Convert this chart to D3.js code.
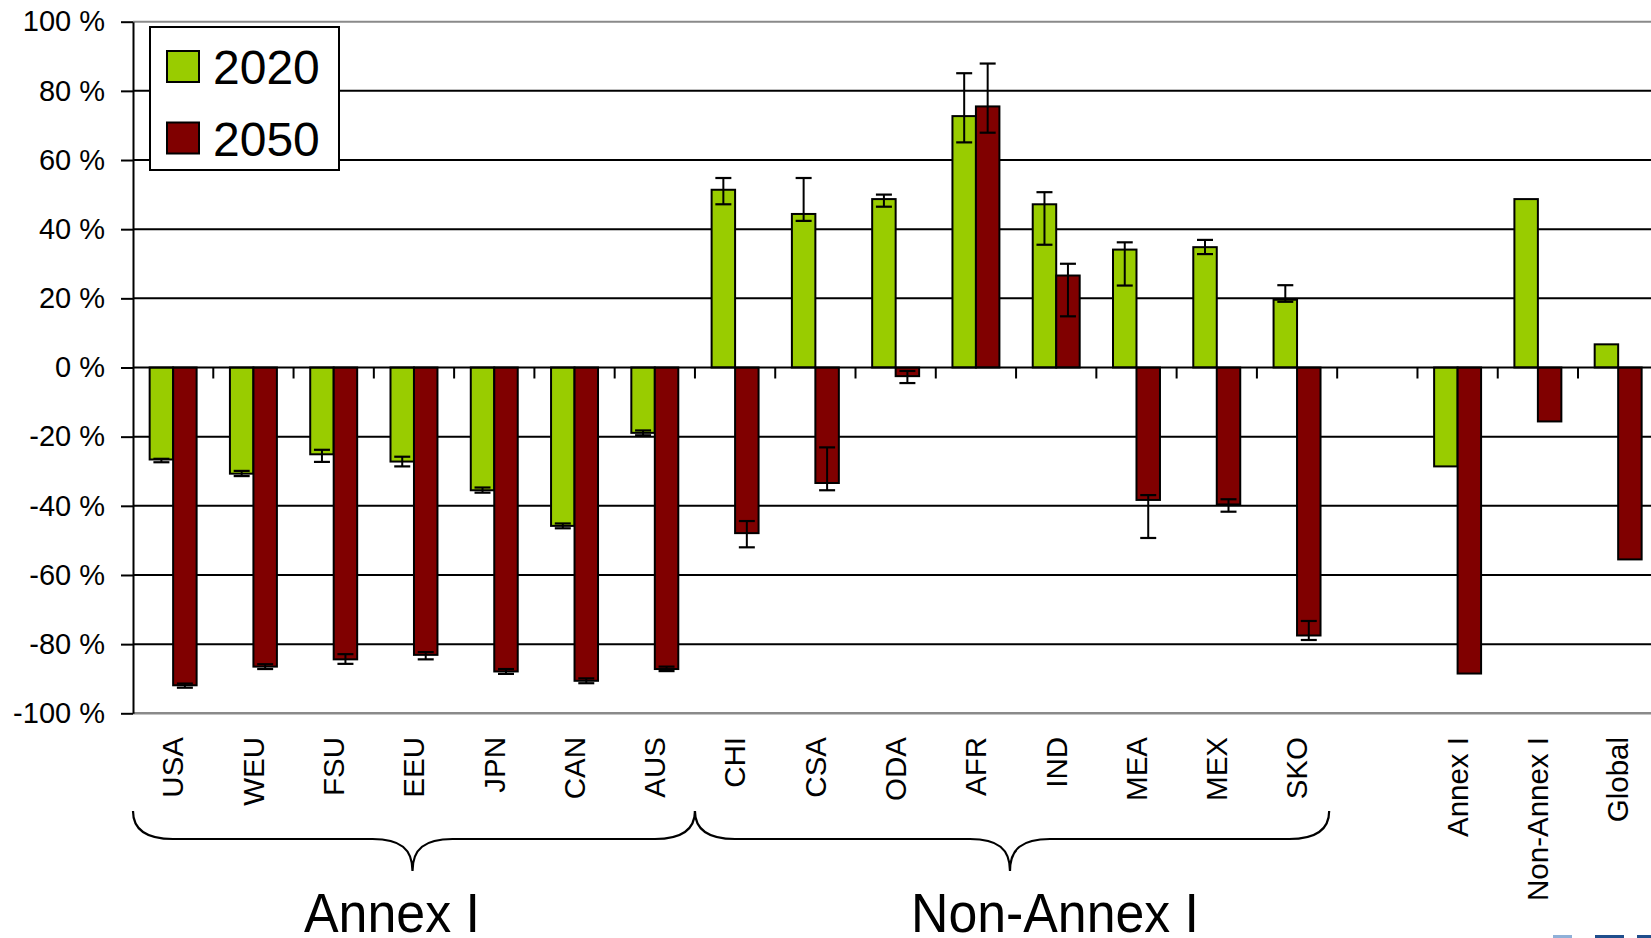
<!DOCTYPE html>
<html>
<head>
<meta charset="utf-8">
<script src="https://cdn.jsdelivr.net/npm/d3@7"></script>
<style>
  html, body { margin: 0; padding: 0; background: #fff; }
  svg { display: block; font-family: "Liberation Sans", Arial, sans-serif; }
</style>
</head>
<body>
<svg id="chart" width="1651" height="938"></svg>
<script>
// Regions and aggregates along the category axis ("" is an empty spacer slot)
const categories = ["USA", "WEU", "FSU", "EEU", "JPN", "CAN", "AUS",
  "CHI", "CSA", "ODA", "AFR", "IND", "MEA", "MEX", "SKO", "",
  "Annex I", "Non-Annex I", "Global"];

const seriesNames = ["2020", "2050"];

// Change relative to baseline, in percent
const values2020 = [-26.6, -30.7, -25.1, -27.2, -35.5, -45.8, -18.9,
  51.4, 44.4, 48.7, 72.7, 47.2, 34.1, 34.8, 19.6, null, -28.6, 48.7, 6.7];
const values2050 = [-91.9, -86.5, -84.4, -83.1, -87.9, -90.6, -87.2,
  -47.9, -33.4, -2.5, 75.5, 26.6, -38.3, -39.6, -77.5, null, -88.5, -15.6, -55.5];

// Uncertainty ranges (low / high end of each error bar)
const low2020 = [-27.4, -31.4, -27.3, -28.6, -36.2, -46.5, -19.6,
  47.2, 42.4, 46.5, 65.1, 35.5, 23.7, 32.8, 19.0, null, null, null, null];
const high2020 = [-26.4, -29.9, -23.8, -25.8, -34.7, -45.1, -18.2,
  54.8, 54.8, 50.0, 85.1, 50.7, 36.2, 36.9, 23.8, null, null, null, null];
const low2050 = [-92.6, -87.2, -85.7, -84.4, -88.6, -91.3, -87.8,
  -52.0, -35.5, -4.5, 67.9, 14.8, -49.3, -41.7, -78.8, null, null, null, null];
const high2050 = [-91.4, -85.8, -82.9, -82.3, -87.2, -89.9, -86.5,
  -44.4, -23.1, -1.0, 87.9, 30.0, -36.9, -38.1, -73.3, null, null, null, null];

const yTicks = [100, 80, 60, 40, 20, 0, -20, -40, -60, -80, -100];

// Category groups shown with braces below the axis
const groupNames = ["Annex I", "Non-Annex I"];
const groupFirst = ["USA", "CHI"];
const groupLast = ["AUS", "SKO"];

const colors = { "2020": "#99CC00", "2050": "#800000" };

const svg = d3.select("#chart");
svg.append("rect").attr("width", 1651).attr("height", 938).attr("fill", "#fff");

const plotLeft = 133, plotRight = 1658.3, plotTop = 21.7, plotBottom = 713.3;

const x = d3.scaleBand()
  .domain(categories)
  .range([plotLeft, plotRight])
  .paddingInner(0.415)
  .paddingOuter(0.2075);

const xs = d3.scaleBand().domain(seriesNames).range([0, x.bandwidth()]);

const y = d3.scaleLinear().domain([-100, 100]).range([plotBottom, plotTop]);

const rows = categories.map((c, i) => ({
  cat: c,
  series: [
    { name: "2020", v: values2020[i], lo: low2020[i], hi: high2020[i] },
    { name: "2050", v: values2050[i], lo: low2050[i], hi: high2050[i] }
  ]
}));

// Horizontal gridlines
svg.append("g").selectAll("line")
  .data(yTicks.filter(t => t !== 0))
  .join("line")
  .attr("x1", plotLeft).attr("x2", plotRight)
  .attr("y1", d => y(d)).attr("y2", d => y(d))
  .attr("stroke", d => (Math.abs(d) === 100 ? "#8a8a8a" : "#000"))
  .attr("stroke-width", d => (d === -100 ? 2.6 : 2));

// Y axis
const yAxis = d3.axisLeft(y)
  .tickValues(yTicks)
  .tickSize(12)
  .tickSizeOuter(0)
  .tickPadding(16)
  .tickFormat(d => `${d} %`);

const yg = svg.append("g").attr("transform", `translate(${plotLeft},0)`).call(yAxis);
yg.select(".domain").attr("stroke", "#000").attr("stroke-width", 2);
yg.selectAll(".tick line").attr("stroke", "#000").attr("stroke-width", 2);
yg.selectAll(".tick text")
  .attr("fill", "#000")
  .style("font-size", "29px")
  .style("font-family", "'Liberation Sans', Arial, sans-serif");

// Bars
const groups = svg.append("g").selectAll("g")
  .data(rows)
  .join("g")
  .attr("transform", d => `translate(${x(d.cat)},0)`);

groups.selectAll("rect")
  .data(d => d.series.filter(s => s.v !== null))
  .join("rect")
  .attr("x", s => xs(s.name))
  .attr("width", xs.bandwidth())
  .attr("y", s => y(Math.max(0, s.v)))
  .attr("height", s => Math.abs(y(s.v) - y(0)))
  .attr("fill", s => colors[s.name])
  .attr("stroke", "#000")
  .attr("stroke-width", 2);

// Zero line with category separator ticks
svg.append("line")
  .attr("x1", plotLeft).attr("x2", plotRight)
  .attr("y1", y(0)).attr("y2", y(0))
  .attr("stroke", "#000").attr("stroke-width", 2.2);

const boundaries = categories.map(c => x(c) - x.step() * x.paddingInner() / 2 + x.step());
svg.append("g").selectAll("line")
  .data(boundaries)
  .join("line")
  .attr("x1", d => d).attr("x2", d => d)
  .attr("y1", y(0)).attr("y2", y(0) + 11)
  .attr("stroke", "#000").attr("stroke-width", 2);

// Error bars
const capHalf = 8;
const eb = groups.selectAll("g.err")
  .data(d => d.series.filter(s => s.lo !== null))
  .join("g")
  .attr("class", "err")
  .attr("transform", s => `translate(${xs(s.name) + xs.bandwidth() / 2},0)`);

eb.append("line")
  .attr("x1", 0).attr("x2", 0)
  .attr("y1", s => y(s.lo)).attr("y2", s => y(s.hi))
  .attr("stroke", "#000").attr("stroke-width", 2);
eb.append("line")
  .attr("x1", -capHalf).attr("x2", capHalf)
  .attr("y1", s => y(s.lo)).attr("y2", s => y(s.lo))
  .attr("stroke", "#000").attr("stroke-width", 2.2);
eb.append("line")
  .attr("x1", -capHalf).attr("x2", capHalf)
  .attr("y1", s => y(s.hi)).attr("y2", s => y(s.hi))
  .attr("stroke", "#000").attr("stroke-width", 2.2);

// Category labels, rotated to read bottom-to-top
svg.append("g").selectAll("text")
  .data(categories)
  .join("text")
  .attr("transform", d => `translate(${x(d) + x.bandwidth() / 2},737) rotate(-90)`)
  .attr("text-anchor", "end")
  .attr("dy", "0.35em")
  .style("font-size", "29.5px")
  .attr("fill", "#000")
  .text(d => d);

// Legend
const legend = svg.append("g").attr("transform", "translate(150,27)");
legend.append("rect")
  .attr("width", 189).attr("height", 143)
  .attr("fill", "#fff").attr("stroke", "#000").attr("stroke-width", 2);
seriesNames.forEach((name, i) => {
  legend.append("rect")
    .attr("x", 17).attr("y", 24 + i * 71.5)
    .attr("width", 32).attr("height", 31)
    .attr("fill", colors[name]).attr("stroke", "#000").attr("stroke-width", 2);
  legend.append("text")
    .attr("x", 63).attr("y", 57.3 + i * 71.7)
    .style("font-size", "48px")
    .attr("fill", "#000")
    .text(name);
});

// Group braces and titles
const braceTop = 811, braceMid = 839, braceTip = 871;
function bracePath(x0, x1, xc) {
  const r = 40;
  return `M${x0},${braceTop}` +
    `C${x0},${braceMid - 10} ${x0 + 12},${braceMid} ${x0 + r},${braceMid}` +
    `L${xc - r},${braceMid}` +
    `C${xc - 12},${braceMid} ${xc},${braceMid + 10} ${xc},${braceTip}` +
    `C${xc},${braceMid + 10} ${xc + 12},${braceMid} ${xc + r},${braceMid}` +
    `L${x1 - r},${braceMid}` +
    `C${x1 - 12},${braceMid} ${x1},${braceMid - 10} ${x1},${braceTop}`;
}

const titleCenters = [392, 1055];
const titleLengths = [176, 288];
const braceTips = [412.5, 1010];

groupNames.forEach((name, i) => {
  const x0 = x(groupFirst[i]) - x.step() * x.paddingOuter();
  const x1 = x(groupLast[i]) + x.bandwidth() + x.step() * x.paddingOuter()
    + (i === 1 ? -8 : 0);
  svg.append("path")
    .attr("d", bracePath(x0, x1, braceTips[i]))
    .attr("fill", "none").attr("stroke", "#000").attr("stroke-width", 2.2);
  svg.append("text")
    .attr("x", titleCenters[i] - titleLengths[i] / 2)
    .attr("y", 931.5)
    .attr("textLength", titleLengths[i])
    .attr("lengthAdjust", "spacingAndGlyphs")
    .style("font-size", "56px")
    .attr("fill", "#000")
    .text(name);
});

// Footer strip marks at the lower right edge
const stripX = [1553, 1595, 1637];
const stripW = [19, 29, 14];
const stripC = ["#8fb0d8", "#1f4e8c", "#1f4e8c"];
svg.append("g").selectAll("rect")
  .data(stripX)
  .join("rect")
  .attr("x", d => d).attr("y", 935)
  .attr("width", (d, i) => stripW[i]).attr("height", 3)
  .attr("fill", (d, i) => stripC[i]);
</script>
</body>
</html>
